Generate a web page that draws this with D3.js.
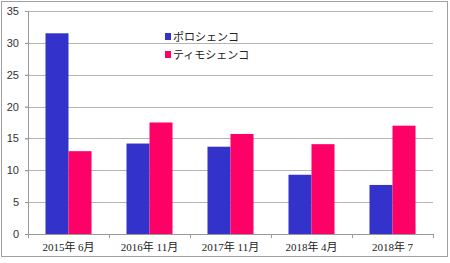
<!DOCTYPE html>
<html>
<head>
<meta charset="utf-8">
<script src="https://cdn.jsdelivr.net/npm/d3@7"></script>
<style>
  body { margin: 0; background: #fff; }
  svg { display: block; }
</style>
</head>
<body>
<div id="chart"></div>
<script>
var categories = ["2015年 6月", "2016年 11月", "2017年 11月", "2018年 4月", "2018年 7"];
var seriesNames = ["ポロシェンコ", "ティモシェンコ"];
var poroshenko = [31.5, 14.2, 13.7, 9.3, 7.7];
var tymoshenko = [13.0, 17.5, 15.7, 14.1, 17.0];
var yTicks = [0, 5, 10, 15, 20, 25, 30, 35];
var colors = ["#3333cc", "#ff0066"];

var data = categories.map(function(c, i) {
  return { cat: c, values: [poroshenko[i], tymoshenko[i]] };
});

var svg = d3.select("#chart").append("svg").attr("width", 450).attr("height", 263),
    margin = {top: 11, right: 17, bottom: 29, left: 28},
    width = 450 - margin.left - margin.right,
    height = 263 - margin.top - margin.bottom;

// outer frame
svg.append("rect")
  .attr("x", 1.5).attr("y", 1.5)
  .attr("width", 446).attr("height", 255)
  .attr("fill", "#fff")
  .attr("stroke", "#a0a0a0");

var g = svg.append("g").attr("transform", "translate(" + margin.left + "," + margin.top + ")");

var x = d3.scaleBand().domain(categories).range([0, width]).paddingInner(0).paddingOuter(0);
var y = d3.scaleLinear().domain([0, 35]).range([height, 0]);
var x1 = d3.scaleBand().domain([0, 1]).range([0, x.bandwidth()]).paddingOuter(0.76).paddingInner(0);

// gridlines
g.selectAll(".grid").data(yTicks.filter(function(d) { return d > 0; }))
  .enter().append("line")
  .attr("x1", -3).attr("x2", width)
  .attr("y1", function(d) { return Math.round(y(d)) + 0.5; })
  .attr("y2", function(d) { return Math.round(y(d)) + 0.5; })
  .attr("stroke", "#b4b4b4");

// bars
var groups = g.selectAll(".grp").data(data).enter().append("g")
  .attr("transform", function(d) { return "translate(" + x(d.cat) + ",0)"; });

groups.selectAll("rect").data(function(d) { return d.values; })
  .enter().append("rect")
  .attr("x", function(d, i) { return x1(i); })
  .attr("width", x1.bandwidth())
  .attr("y", function(d) { return y(d); })
  .attr("height", function(d) { return height - y(d); })
  .attr("fill", function(d, i) { return colors[i]; });

// y axis
var yAxis = g.append("g")
  .call(d3.axisLeft(y).tickValues(yTicks).tickSize(3).tickPadding(6));
yAxis.select(".domain").attr("stroke", "#999");
yAxis.selectAll(".tick line").attr("stroke", "#999");
yAxis.selectAll("text")
  .attr("font-family", "Liberation Sans, Arial, sans-serif")
  .attr("font-size", 11).attr("fill", "#333");

// x axis
var xAxis = g.append("g").attr("transform", "translate(0," + height + ")")
  .call(d3.axisBottom(x).tickSize(0).tickPadding(9));
xAxis.select(".domain").attr("stroke", "#999").attr("d", "M0.5,0.5H" + width);
xAxis.selectAll("text")
  .attr("font-family", "Liberation Serif, 'Noto Sans CJK JP', serif")
  .attr("font-size", 11).attr("fill", "#222");
xAxis.selectAll(".sep").data(d3.range(categories.length + 1))
  .enter().append("line").attr("class", "sep")
  .attr("x1", function(i) { return i * x.step() + 0.5; })
  .attr("x2", function(i) { return i * x.step() + 0.5; })
  .attr("y1", 0).attr("y2", 4)
  .attr("stroke", "#999");

// legend
var legend = svg.append("g").attr("transform", "translate(165,31)");
var items = legend.selectAll(".item").data(seriesNames).enter().append("g")
  .attr("transform", function(d, i) { return "translate(0," + (i * 18) + ")"; });
items.append("rect").attr("x", 0).attr("y", 2).attr("width", 6).attr("height", 7)
  .attr("fill", function(d, i) { return colors[i]; });
items.append("text").attr("x", 8).attr("y", 10)
  .attr("font-family", "'Noto Sans CJK JP', sans-serif")
  .attr("font-size", 11).attr("fill", "#222")
  .text(function(d) { return d; });
</script>
</body>
</html>
